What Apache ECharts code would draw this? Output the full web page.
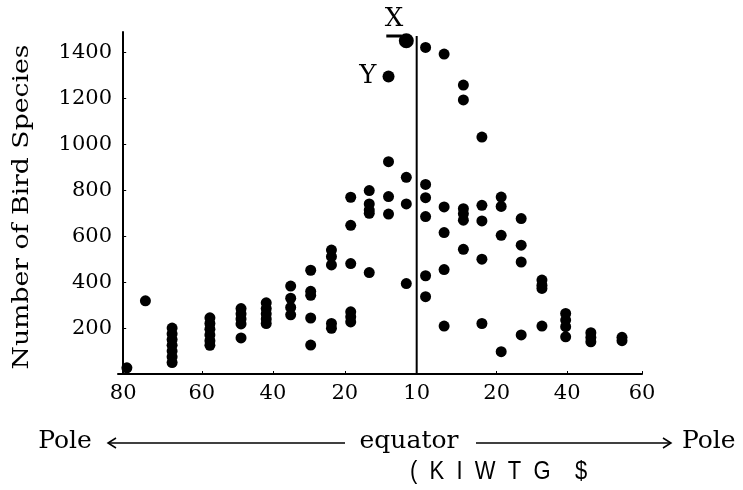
<!DOCTYPE html>
<html>
<head>
<meta charset="utf-8">
<title>Bird species by latitude</title>
<script src="https://cdn.jsdelivr.net/npm/echarts@6/dist/echarts.min.js"></script>
<style>
  html, body { margin: 0; padding: 0; background: #fff; }
  #chart { width: 743px; height: 490px; }
</style>
</head>
<body>
<div id="chart"></div>
<script>
// x is the slot position along the axis (0 = 80 at the left pole, 7 = 60 at the right pole)
var xLabels = ['80', '60', '40', '20', '10', '20', '40', '60'];
var xLabelPos = [0, 1.06, 2.02, 2.99, 3.96, 5.04, 5.99, 7];
var yTicks = [200, 400, 600, 800, 1000, 1200, 1400];
var equatorPos = 3.96;
var equatorTop = 1473;

// sampled sites: [position, number of bird species]
var sites = [
  [0.05, 27], [0.30, 319],
  [0.66, 200], [0.66, 175], [0.66, 150], [0.66, 125], [0.66, 100], [0.66, 75], [0.66, 50],
  [1.17, 245], [1.17, 220], [1.17, 195], [1.17, 170], [1.17, 145], [1.17, 125],
  [1.59, 285], [1.59, 262], [1.59, 240], [1.59, 218], [1.59, 157],
  [1.93, 310], [1.93, 285], [1.93, 262], [1.93, 240], [1.93, 220],
  [2.26, 383], [2.26, 330], [2.26, 290], [2.26, 258],
  [2.53, 452], [2.53, 360], [2.53, 343], [2.53, 244], [2.53, 126],
  [2.81, 540], [2.81, 511], [2.81, 475], [2.81, 220], [2.81, 199],
  [3.07, 770], [3.07, 648], [3.07, 481], [3.07, 271], [3.07, 249], [3.07, 227],
  [3.32, 799], [3.32, 741], [3.32, 714], [3.32, 700], [3.32, 442],
  [3.58, 925], [3.58, 773], [3.58, 697],
  [3.82, 857], [3.82, 741], [3.82, 394],
  [4.08, 1423], [4.08, 826], [4.08, 768], [4.08, 686], [4.08, 428], [4.08, 337],
  [4.33, 1394], [4.33, 728], [4.33, 616], [4.33, 455], [4.33, 209],
  [4.59, 1259], [4.59, 1194], [4.59, 720], [4.59, 698], [4.59, 670], [4.59, 543],
  [4.84, 1032], [4.84, 735], [4.84, 667], [4.84, 500], [4.84, 220],
  [5.10, 771], [5.10, 730], [5.10, 604], [5.10, 97],
  [5.37, 677], [5.37, 561], [5.37, 488], [5.37, 170],
  [5.65, 409], [5.65, 387], [5.65, 373], [5.65, 209],
  [5.97, 264], [5.97, 235], [5.97, 206], [5.97, 162],
  [6.31, 180], [6.31, 159], [6.31, 140],
  [6.73, 160], [6.73, 145]
];

// the two labelled sites
var siteX = [3.82, 1452];
var siteY = [3.58, 1296];
var xLeader = [[3.55, 1473], [3.76, 1473]];

var serif = '"DejaVu Serif", "Liberation Serif", serif';
var ink = '#000';

var chart = echarts.init(document.getElementById('chart'));
chart.setOption({
  animation: false,
  grid: { left: 118, right: 101, top: 32, bottom: 116 },
  xAxis: {
    type: 'value',
    min: -0.07,
    max: 7,
    splitLine: { show: false },
    axisLine: { show: true, lineStyle: { color: ink, width: 2 } },
    axisTick: { show: true, inside: true, length: 3, customValues: xLabelPos, lineStyle: { color: ink } },
    axisLabel: {
      customValues: xLabelPos,
      margin: 9,
      fontFamily: serif,
      fontSize: 21,
      color: ink,
      formatter: function (v) {
        var best = 0;
        for (var i = 1; i < xLabelPos.length; i++) {
          if (Math.abs(xLabelPos[i] - v) < Math.abs(xLabelPos[best] - v)) best = i;
        }
        return xLabels[best];
      }
    }
  },
  yAxis: {
    type: 'value',
    min: 0,
    max: 1490,
    interval: 200,
    splitLine: { show: false },
    axisLine: { show: true, lineStyle: { color: ink, width: 2 } },
    axisTick: { show: true, inside: true, length: 3, customValues: yTicks, lineStyle: { color: ink } },
    axisLabel: {
      customValues: yTicks, margin: 6, fontFamily: serif, fontSize: 21, color: ink,
      formatter: function (v) { return String(v); }
    }
  },
  series: [
    {
      name: 'sites',
      type: 'scatter',
      data: sites,
      symbolSize: 11,
      itemStyle: { color: ink, opacity: 1 }
    },
    {
      name: 'labelled',
      type: 'scatter',
      itemStyle: { color: ink, opacity: 1 },
      label: { show: true, formatter: '{b}', fontFamily: serif, fontSize: 26, color: ink },
      data: [
        { name: 'X', value: siteX, symbolSize: 15, label: { position: [-14, -27] } },
        { name: 'Y', value: siteY, symbolSize: 12, label: { position: 'left', distance: 6 } }
      ]
    },
    {
      name: 'xLeader',
      type: 'line',
      data: xLeader,
      symbol: 'none',
      lineStyle: { color: ink, width: 3 }
    },
    {
      name: 'equator',
      type: 'line',
      data: [[equatorPos, 0], [equatorPos, equatorTop]],
      symbol: 'none',
      lineStyle: { color: ink, width: 2 }
    }
  ],
  graphic: [
    {
      type: 'text', x: 22, y: 207, rotation: Math.PI / 2, scaleX: 1.16,
      style: { text: 'Number of Bird Species', font: '23px ' + serif, fill: ink, align: 'center', verticalAlign: 'middle' }
    },
    { type: 'text', x: 65, y: 441, style: { text: 'Pole', font: '25px ' + serif, fill: ink, align: 'center', verticalAlign: 'middle' } },
    { type: 'text', x: 409, y: 441, style: { text: 'equator', font: '25px ' + serif, fill: ink, align: 'center', verticalAlign: 'middle' } },
    { type: 'text', x: 682, y: 441, style: { text: 'Pole', font: '25px ' + serif, fill: ink, align: 'left', verticalAlign: 'middle' } },
    { type: 'line', shape: { x1: 108, y1: 443, x2: 345, y2: 443 }, style: { stroke: ink, lineWidth: 1.5 } },
    { type: 'polyline', shape: { points: [[116, 438], [108, 443], [116, 448]] }, style: { stroke: ink, lineWidth: 1.5, fill: null } },
    { type: 'line', shape: { x1: 476, y1: 443, x2: 671, y2: 443 }, style: { stroke: ink, lineWidth: 1.5 } },
    { type: 'polyline', shape: { points: [[663, 438], [671, 443], [663, 448]] }, style: { stroke: ink, lineWidth: 1.5, fill: null } },
    {
      type: 'text', x: 410, y: 472, scaleX: 1.1, scaleY: 1.3,
      style: { text: '(  K  I  W  T  G    $', font: '20px "Liberation Sans", Arial, sans-serif', fill: ink, align: 'left', verticalAlign: 'middle' }
    }
  ]
});
</script>
</body>
</html>
